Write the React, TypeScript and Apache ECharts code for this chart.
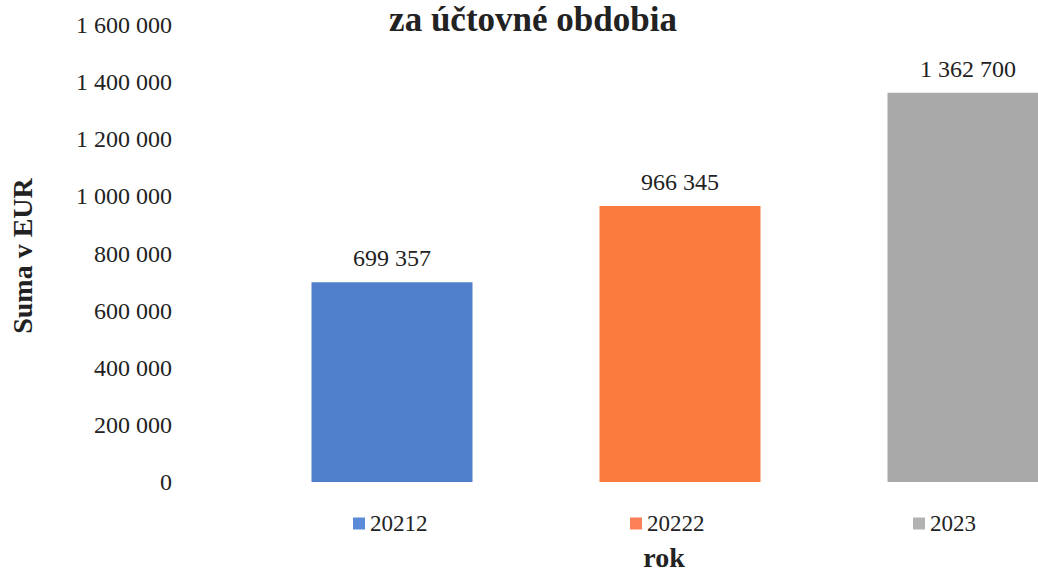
import React, { useEffect, useRef } from "react";
import * as echarts from "echarts";

const categories = ["20212", "20222", "2023"];
const values = [699357, 966345, 1362700];
const barColors = ["#5080cb", "#fb7a3e", "#a9a9a9"];
const legendColors = ["#5b8ad8", "#fd8058", "#b2b2b2"];
const yTicks = { min: 0, max: 1600000, interval: 200000 };
const titleText = "za účtovné obdobia";
const yName = "Suma v EUR";
const xName = "rok";

const FONT = '"Liberation Serif", "Times New Roman", serif';
const fmt = (v: number) => String(Math.round(v)).replace(/\B(?=(\d{3})+(?!\d))/g, " ");

export default function App() {
  const ref = useRef<HTMLDivElement>(null);
  useEffect(() => {
    if (!ref.current) return;
    const chart = echarts.init(ref.current, undefined, { renderer: "svg" });
    const legendLefts = [353, 630, 913];
    const series = categories.map((c, i) => ({
      name: c,
      type: "bar",
      stack: "all",
      barWidth: 161,
      itemStyle: { color: barColors[i] },
      label: {
        show: true,
        position: "top",
        distance: 12,
        fontFamily: FONT,
        fontSize: 24,
        color: "#222",
        formatter: (p: any) => fmt(p.value),
      },
      data: categories.map((_, j) => (j === i ? values[i] : "-")),
    }));
    chart.setOption({
      animation: false,
      backgroundColor: "#fff",
      textStyle: { fontFamily: FONT },
      grid: { left: 248, top: 25, width: 864, height: 457, containLabel: false },
      xAxis: {
        type: "category",
        data: categories,
        axisLine: { show: false },
        axisTick: { show: false },
        axisLabel: { show: false },
        splitLine: { show: false },
      },
      yAxis: {
        type: "value",
        min: yTicks.min,
        max: yTicks.max,
        interval: yTicks.interval,
        axisLine: { show: false },
        axisTick: { show: false },
        splitLine: { show: false },
        axisLabel: {
          margin: 76,
          fontFamily: FONT,
          fontSize: 24,
          color: "#222",
          formatter: (v: number) => fmt(v),
        },
      },
      legend: categories.map((c, i) => ({
        data: [{ name: c, itemStyle: { color: legendColors[i] } }],
        left: legendLefts[i],
        top: 512,
        padding: 0,
        itemWidth: 12,
        itemHeight: 12,
        icon: "rect",
        selectedMode: false,
        textStyle: { fontFamily: FONT, fontSize: 23, color: "#222" },
      })),
      graphic: [
        {
          type: "text",
          x: 533,
          y: 19,
          style: {
            text: titleText,
            fontFamily: FONT,
            fontSize: 35,
            fontWeight: "bold",
            fill: "#222",
            align: "center",
            verticalAlign: "middle",
          },
        },
        {
          type: "text",
          x: 22,
          y: 256,
          rotation: Math.PI / 2,
          style: {
            text: yName,
            fontFamily: FONT,
            fontSize: 28,
            fontWeight: "bold",
            fill: "#222",
            align: "center",
            verticalAlign: "middle",
          },
        },
        {
          type: "text",
          x: 664,
          y: 557,
          style: {
            text: xName,
            fontFamily: FONT,
            fontSize: 28,
            fontWeight: "bold",
            fill: "#222",
            align: "center",
            verticalAlign: "middle",
          },
        },
      ],
      series,
    });
    return () => chart.dispose();
  }, []);
  return (
    <div
      style={{
        position: "fixed",
        left: 0,
        top: 0,
        width: 1038,
        height: 574,
        overflow: "hidden",
        background: "#fff",
      }}
    >
      <div ref={ref} style={{ width: 1150, height: 574 }} />
    </div>
  );
}
